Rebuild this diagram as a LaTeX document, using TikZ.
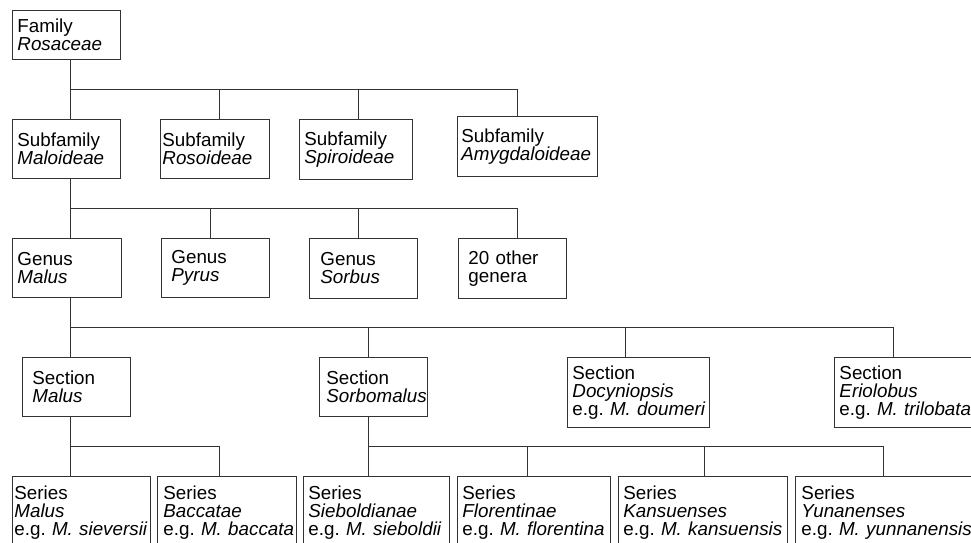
\documentclass[tikz,border=0pt]{standalone}
\usepackage{fontspec}
\setmainfont{Liberation Sans}
\usetikzlibrary{positioning}

\newcommand\taxfont{\fontsize{18.8}{18}\selectfont\frenchspacing\hyphenpenalty=10000\relax\exhyphenpenalty=10000\relax}
\tikzset{
  taxon/.style={rectangle, draw=black!80, line width=0.9pt, anchor=north west, align=left,
    inner xsep=5pt, font=\taxfont},
  branch/.style={draw=black!80, line width=0.9pt}
}

\begin{document}
\begin{tikzpicture}[x=1pt,y=-1pt]
        \clip (0,0) rectangle (971,542);
        % family and subfamilies
        \node[taxon, text width=98pt, minimum height=49pt] at (12,10) (family) {Family\\\textit{Rosaceae}};
        \node[taxon, text width=98pt, minimum height=59pt] at (12,119) (maloideae) {Subfamily\\\textit{Maloideae}};
        \node[taxon, inner xsep=2pt, text width=105pt, minimum height=59pt] at (160,119) (rosoideae) {Subfamily\\\textit{Rosoideae}};
        \node[taxon, text width=103pt, minimum height=60pt] at (299,119) (spiroideae) {Subfamily\\\textit{Spiroideae}};
        \node[taxon, inner xsep=4pt, text width=132pt, minimum height=60pt] at (457,116) (amygdaloideae) {Subfamily\\\textit{Amygdaloideae}};
        \coordinate (famjoin) at (70,89);
        \draw[branch] (famjoin |- family.south) -- (famjoin |- maloideae.north);
        \draw[branch] (famjoin) -| ([xshift=4.5pt]rosoideae.north);
        \draw[branch] (famjoin) -| ([xshift=2.5pt]spiroideae.north);
        \draw[branch] (famjoin) -| ([xshift=-10pt]amygdaloideae.north);
        % genera
        \node[taxon, text width=99pt, minimum height=59pt] at (12,238) (genmalus) {Genus\\\textit{Malus}};
        \node[taxon, inner xsep=10pt, text width=88pt, minimum height=59pt] at (161,238) (pyrus) {Genus\\\textit{Pyrus}};
        \node[taxon, inner xsep=11pt, text width=86pt, minimum height=60pt] at (309,238) (sorbus) {Genus\\\textit{Sorbus}};
        \node[taxon, inner xsep=10pt, text width=88pt, minimum height=60pt] at (458,238) (othergen) {20 other\\genera};
        \coordinate (maljoin) at (70,208);
        \draw[branch] (maljoin |- maloideae.south) -- (maljoin |- genmalus.north);
        \draw[branch] (maljoin) -| ([xshift=-5pt]pyrus.north);
        \draw[branch] (maljoin) -| ([xshift=-5pt]sorbus.north);
        \draw[branch] (maljoin) -| ([xshift=5pt]othergen.north);
        % sections
        \node[taxon, inner xsep=10pt, text width=88pt, minimum height=59pt] at (22,357) (secmalus) {Section\\\textit{Malus}};
        \node[taxon, inner xsep=7pt, text width=94pt, minimum height=59pt] at (319,357) (sorbomalus) {Section\\\textit{Sorbomalus}};
        \node[taxon, inner xsep=5pt, text width=132pt, minimum height=70pt] at (567,357) (docyniopsis) {Section\\\textit{Docyniopsis}\\e.g.~\textit{M.~doumeri}};
        \node[taxon, inner xsep=5pt, text width=130pt, minimum height=70pt] at (834,357) (eriolobus) {Section\\\textit{Eriolobus}\\e.g.~\textit{M.~trilobata}};
        \coordinate (genjoin) at (70,327);
        \draw[branch] (genjoin |- genmalus.south) -- (genjoin |- secmalus.north);
        \draw[branch] (genjoin) -| ([xshift=-5pt]sorbomalus.north);
        \draw[branch] (genjoin) -| ([xshift=-13pt]docyniopsis.north);
        \draw[branch] (genjoin) -| ([xshift=-11pt]eriolobus.north);
        % series
        \node[taxon, inner xsep=2pt, text width=134pt, minimum height=72pt] at (12,476) (sermalus) {Series\\\textit{Malus}\\e.g.~\textit{M.~sieversii}};
        \node[taxon, inner xsep=6pt, text width=127pt, minimum height=72pt] at (157,476) (baccatae) {Series\\\textit{Baccatae}\\e.g.~\textit{M.~baccata}};
        \node[taxon, inner xsep=5pt, text width=136pt, minimum height=72pt] at (303,476) (sieboldianae) {Series\\\textit{Sieboldianae}\\e.g.~\textit{M.~sieboldii}};
        \node[taxon, inner xsep=5pt, text width=143pt, minimum height=72pt] at (457,476) (florentinae) {Series\\\textit{Florentinae}\\e.g.~\textit{M.~florentina}};
        \node[taxon, inner xsep=5pt, text width=159pt, minimum height=72pt] at (618,476) (kansuenses) {Series\\\textit{Kansuenses}\\e.g.~\textit{M.~kansuensis}};
        \node[taxon, inner xsep=6pt, text width=168pt, minimum height=72pt] at (795,476) (yunanenses) {Series\\\textit{Yunanenses}\\e.g.~\textit{M.~yunnanensis}};
        \coordinate (secjoin) at (70,446);
        \draw[branch] (secjoin |- secmalus.south) -- (secjoin |- sermalus.north);
        \draw[branch] (secjoin) -| ([xshift=-7.5pt]baccatae.north);
        \coordinate (sorbjoin) at (368,446);
        \draw[branch] (sorbjoin |- sorbomalus.south) -- (sorbjoin |- sieboldianae.north);
        \draw[branch] (sorbjoin) -| ([xshift=-6.5pt]florentinae.north);
        \draw[branch] (sorbjoin) -| ([xshift=1.5pt]kansuenses.north);
        \draw[branch] (sorbjoin) -| ([xshift=-2pt]yunanenses.north);
      \end{tikzpicture}
\end{document}
